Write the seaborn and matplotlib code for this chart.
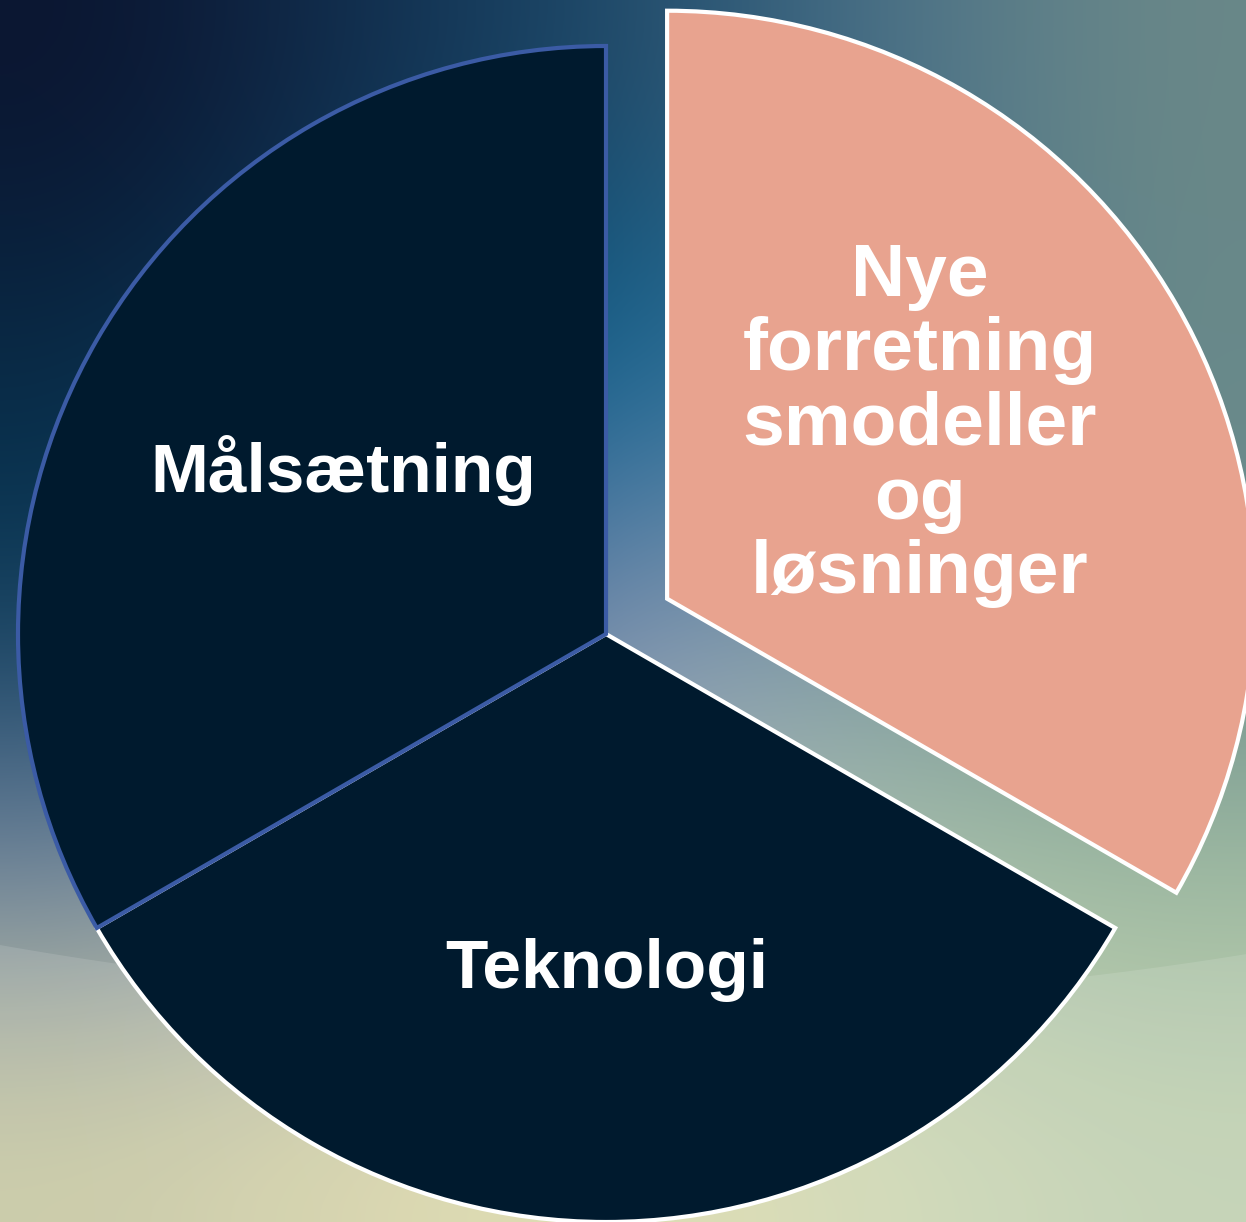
import numpy as np
import matplotlib
matplotlib.use("Agg")
import matplotlib.pyplot as plt
import seaborn as sns
from matplotlib.colors import to_rgb

# data
labels = ["Nye\nforretning\nsmodeller\nog\nløsninger", "Teknologi", "Målsætning"]
values = [1, 1, 1]
explode = [0.12, 0, 0]
colors = ["#e8a38f", "#001a2e", "#001a2e"]
edge_colors = ["white", "white", "#3b5ba5"]

sns.set_theme(style="white")
plt.rcParams['font.family'] = ['Liberation Sans', 'DejaVu Sans']

W, H = 1246, 1222
fig = plt.figure(figsize=(W / 100, H / 100), dpi=100)
ax = fig.add_axes([0, 0, 1, 1])

# background gradient (coarse colour grid, smoothed by imshow)
bg = [
    ["#0b1530", "#123050", "#1e4a6a", "#4a7088", "#6a8888"],
    ["#082a45", "#0a4565", "#0a6a9c", "#3a7090", "#6a8a8a"],
    ["#0a3a58", "#2a5a85", "#8890b8", "#7a98a0", "#6c8c8c"],
    ["#6a80a0", "#9aa8b8", "#a8b8b8", "#a8c0ac", "#9ab8a0"],
    ["#c8c8a0", "#d8d4a8", "#e0dca8", "#d0d8b4", "#c0d0b0"],
]
img = np.array([[to_rgb(c) for c in row] for row in bg])
ax.imshow(img, extent=[0, W, 0, H], origin="upper", interpolation="bicubic",
          aspect="auto", zorder=-2)
# lighter band below a big arc
arc_x = np.linspace(0, W, 300)
arc_y = H - (-2733 + np.sqrt(3735 ** 2 - (arc_x - 650) ** 2))
ax.fill_between(arc_x, 0, arc_y, color="white", alpha=0.12, lw=0, zorder=-1)

cx, cy, r = 606, H - 634, 588
wedges, texts = ax.pie(values, labels=labels, explode=[e * r for e in explode],
                       colors=colors, startangle=90, counterclock=False,
                       radius=r, center=(cx, cy), labeldistance=0.55, frame=True,
                       wedgeprops=dict(linewidth=3, edgecolor="white"),
                       textprops=dict(color="white", fontsize=50, fontweight="bold"))
for w, ec in zip(wedges, edge_colors):
    w.set_edgecolor(ec)
for t in texts:
    t.set_ha("center")
    t.set_va("center")
    t.set_multialignment("center")
texts[0].set_fontsize(54)
texts[0].set_linespacing(1.1)
texts[0].set_position((920, H - 425))
texts[1].set_position((607, H - 970))
texts[2].set_position((343, H - 470))

ax.set_xlim(0, W)
ax.set_ylim(0, H)
ax.set_aspect("auto")
ax.axis("off")
fig.savefig("out.png", dpi=100)
